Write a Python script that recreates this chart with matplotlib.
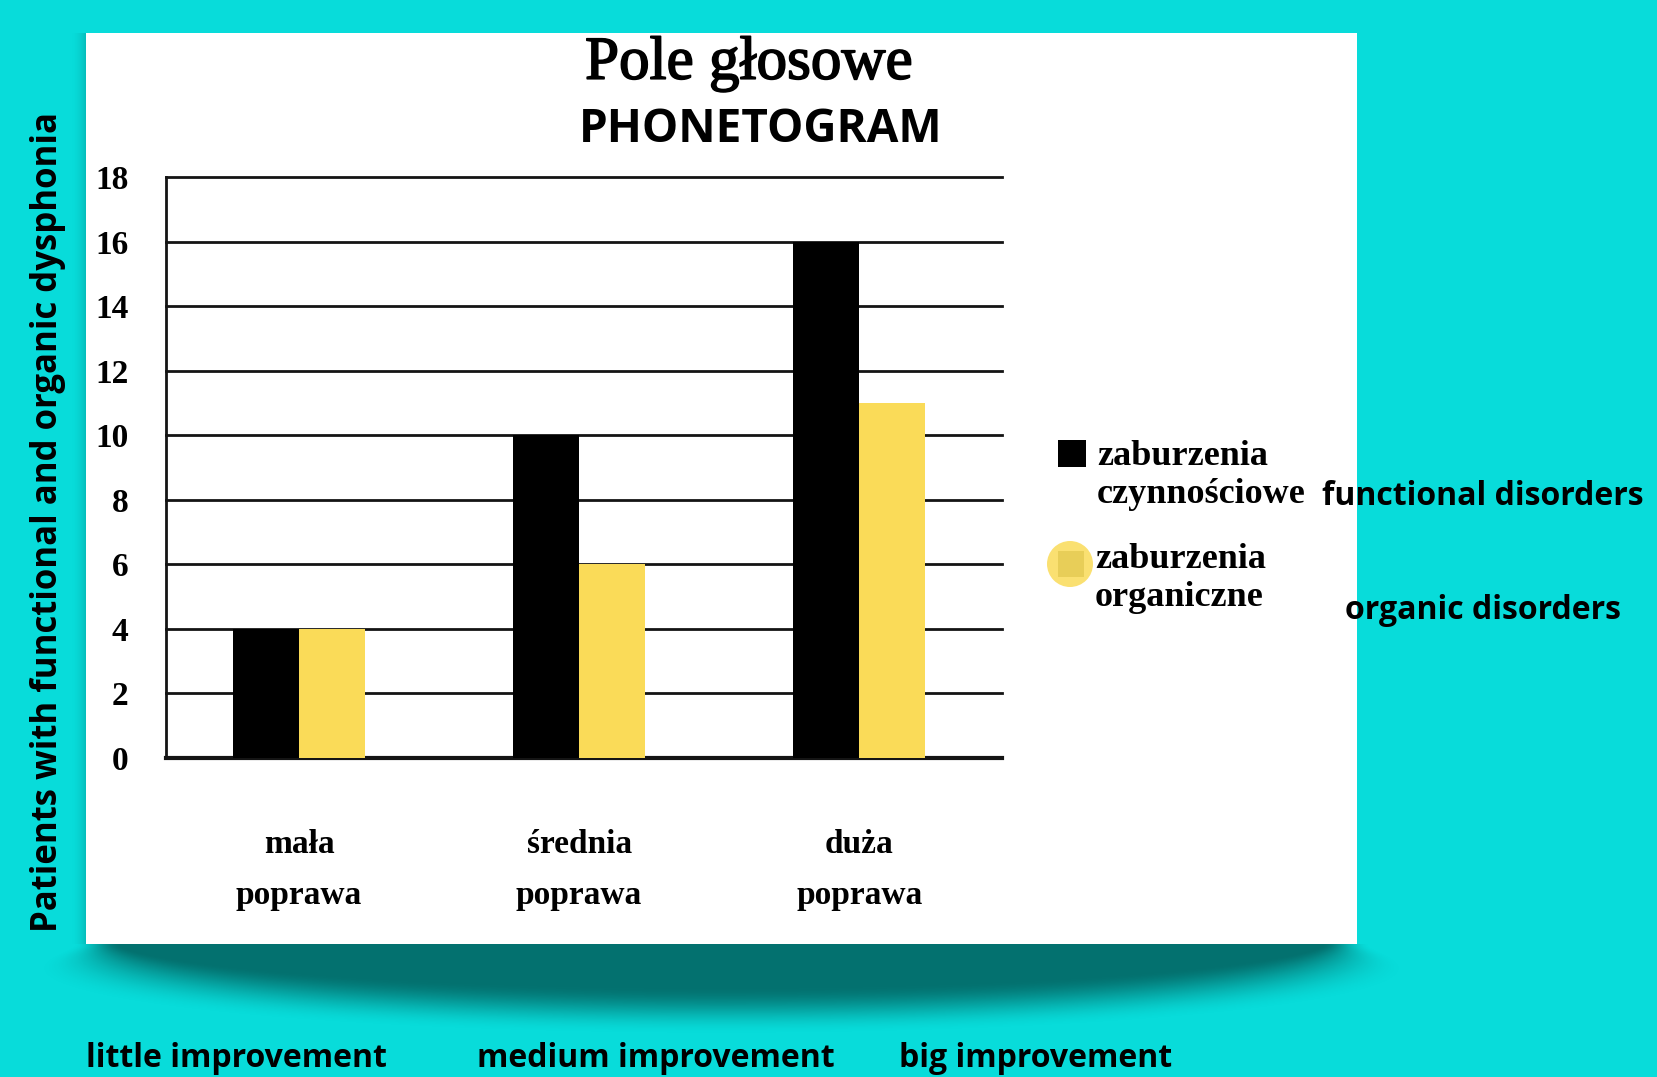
import numpy as np
import matplotlib
matplotlib.use('Agg')
import matplotlib.pyplot as plt
from matplotlib.patches import Rectangle, Circle
import matplotlib.patheffects as pe

# ---------------- data ----------------
categories = ['mała\npoprawa', 'średnia\npoprawa', 'duża\npoprawa']
categories_en = ['little improvement', 'medium improvement', 'big improvement']
functional = [4, 10, 16]
organic = [4, 6, 11]
yticks = [0, 2, 4, 6, 8, 10, 12, 14, 16, 18]
legend_pl = ['zaburzenia\nczynnościowe', 'zaburzenia\norganiczne']
legend_en = ['functional disorders', 'organic disorders']
title_pl = 'Pole głosowe'
title_en = 'PHONETOGRAM'
ylabel = 'Patients with functional and organic dysphonia'

# ---------------- styles ----------------
W, H = 1658, 1077
CYAN = '#08DCDA'
SHADOW = (3/255, 108/255, 106/255)
YELLOW = '#FADB58'
SERIF = ['Liberation Serif', 'DejaVu Serif']
SANS = ['Open Sans', 'DejaVu Sans']

fig = plt.figure(figsize=(W/100, H/100), dpi=100, facecolor=CYAN)

# background layer in pixel coordinates
bg = fig.add_axes([0, 0, 1, 1], zorder=0)
bg.axis('off')

# soft elliptical shadow under the paper
ys, xs = np.mgrid[944:1077, 30:1430].astype(float)
a_, b_, cx, cy = 618.0, 60.0, 721.0, 944.0
dx, dy = xs - cx, ys - cy
t = np.sqrt((dx / a_) ** 2 + (dy / b_) ** 2) + 1e-9
gx = dx / a_ ** 2 / t
gy = dy / b_ ** 2 / t
d = (t - 1) / np.sqrt(gx ** 2 + gy ** 2 + 1e-12)
s = np.clip((d + 18) / 48.0, 0, 1)
alpha = 0.96 * (1 - s * s * (3 - 2 * s))
rgba = np.zeros(ys.shape + (4,))
rgba[..., 0], rgba[..., 1], rgba[..., 2] = SHADOW
rgba[..., 3] = alpha
bg.imshow(rgba, extent=(30, 1430, 1077, 944), interpolation='bilinear', aspect='auto', zorder=1)

# faint shadow on the left edge of the paper
ys2, xs2 = np.mgrid[33:944, 70:86]
a2 = 0.3 * ((xs2 - 70) / 16.0) ** 2
rgba2 = np.zeros(ys2.shape + (4,))
rgba2[..., 0], rgba2[..., 1], rgba2[..., 2] = SHADOW
rgba2[..., 3] = a2
bg.imshow(rgba2, extent=(70, 86, 944, 33), interpolation='bilinear', aspect='auto', zorder=1)

# the paper
bg.add_patch(Rectangle((86, 33), 1271, 911, fc='white', ec='none', zorder=2))
bg.set_xlim(0, W)
bg.set_ylim(H, 0)

# ---------------- main chart ----------------
ax = fig.add_axes([166/W, 1 - 758/H, 836/W, 581/H], zorder=2)
ax.set_facecolor('none')
x = np.arange(len(categories))
w = 0.236
ax.bar(x - w/2, functional, w, color='black', zorder=3)
ax.bar(x + w/2, organic, w, color=YELLOW, zorder=3)
for yv in yticks:
    ax.axhline(yv, color='#141414', lw=3 if yv == 0 else 2, zorder=2, clip_on=False)
ax.set_ylim(0, 18)
ax.set_xlim(-0.475, 2.51)
for sp in ['top', 'right', 'bottom']:
    ax.spines[sp].set_visible(False)
ax.spines['left'].set_linewidth(2)
ax.spines['left'].set_color('#141414')

ax.set_yticks(yticks)
ax.set_yticklabels([str(v) for v in yticks], family=SERIF, fontweight='bold', fontsize=24)
ax.tick_params(axis='y', length=0, pad=27)
ax.set_xticks(x)
ax.set_xticklabels(categories, family=SERIF, fontsize=24, fontweight='bold')
ax.tick_params(axis='x', length=0, pad=51)
for lab in ax.get_xticklabels():
    lab.set_linespacing(1.85)

# titles
fig.text(749/W, 1 - 64/H, title_pl, ha='center', va='center', family=SERIF, fontsize=44,
         path_effects=[pe.withStroke(linewidth=1.2, foreground='black')])
fig.text(761/W, 1 - 130/H, title_en, ha='center', va='center', family=SANS,
         fontweight='bold', fontsize=33)

# y label
fig.text(48/W, 1 - 522/H, ylabel, rotation=90, ha='center', va='center',
         family=SANS, fontweight='bold', fontsize=25)

# legend (paper)
bg.add_patch(Rectangle((1058, 440), 28, 27, fc='black', ec='none', zorder=3))
bg.add_patch(Circle((1070, 564), 23, fc=YELLOW, ec='none', alpha=0.85, zorder=3))
bg.add_patch(Rectangle((1058, 551), 26, 26, fc='#E8CE58', ec='none', zorder=4))
bg.text(1097, 440, legend_pl[0], ha='left', va='top', family=SERIF, fontweight='bold',
        fontsize=26, linespacing=1.2, zorder=5)
bg.text(1095, 543, legend_pl[1], ha='left', va='top', family=SERIF, fontweight='bold',
        fontsize=26, linespacing=1.2, zorder=5)

# english annotations
bg.text(1322, 505, legend_en[0], ha='left', va='baseline', family=SANS, fontweight='bold', fontsize=23, zorder=5)
bg.text(1345, 619, legend_en[1], ha='left', va='baseline', family=SANS, fontweight='bold', fontsize=23, zorder=5)
for xp, lab in zip([86, 477, 899], categories_en):
    bg.text(xp, 1067, lab, ha='left', va='baseline', family=SANS, fontweight='bold', fontsize=23, zorder=5)

fig.savefig('out.png', dpi=100, facecolor=CYAN)
